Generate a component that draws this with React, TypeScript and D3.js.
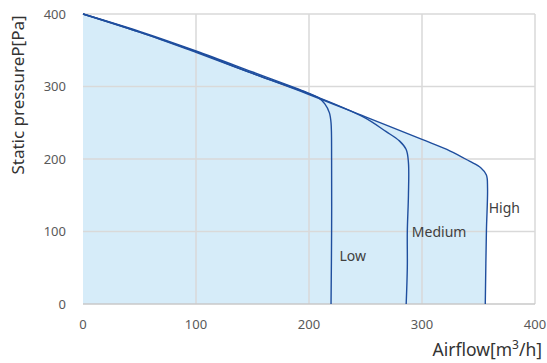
import * as d3 from 'd3'

type Pt = [number, number]

const lowCurve: Pt[] = [[0, 400], [50, 376], [100, 349], [150, 320], [198, 292], [208, 285], [214, 276], [218, 264], [219.5, 250], [220, 200], [220, 100], [219.5, 0]]
const mediumCurve: Pt[] = [[0, 400], [50, 375], [100, 348], [150, 318], [200, 290], [248, 258], [268, 238], [280, 225], [286, 213], [288, 195], [288, 150], [287, 100], [287, 50], [286, 0]]
const highCurve: Pt[] = [[0, 400], [50, 375], [100, 347], [150, 318], [200, 289], [250, 258], [300, 227], [325, 211], [342, 197], [352, 188], [357, 178], [358, 160], [357, 100], [356, 0]]
const curveLabels = ['Low', 'Medium', 'High']
const labelPos: Pt[] = [[227, 66], [291, 100], [359, 133]]
const xTicks = [0, 100, 200, 300, 400]
const yTicks = [0, 100, 200, 300, 400]

const W = 547
const H = 363
const left = 83
const right = 535
const top = 14
const bottom = 304

export default function App() {
  const x = d3.scaleLinear().domain([0, 400]).range([left, right])
  const y = d3.scaleLinear().domain([0, 400]).range([bottom, top])

  const line = d3.line<Pt>().x(d => x(d[0])).y(d => y(d[1])).curve(d3.curveCatmullRom.alpha(0.5))

  // fill under the outer (High) curve, closed back along the bottom
  const fillPath = line(highCurve) + `L${x(0)},${y(0)}Z`
  const curves = [lowCurve, mediumCurve, highCurve]

  return (
    <svg width={W} height={H} style={{ position: 'absolute', left: 0, top: 0, fontFamily: '"Noto Sans", sans-serif' }}>
      <rect width={W} height={H} fill="#fff" />
      <path d={fillPath} fill="#d6ecf9" />
      {xTicks.slice(1).map(t => (
        <line key={'gx' + t} x1={x(t)} x2={x(t)} y1={top} y2={bottom} stroke="#d9d9d9" strokeWidth={1.5} />
      ))}
      {yTicks.slice(1).map(t => (
        <line key={'gy' + t} x1={left} x2={right} y1={y(t)} y2={y(t)} stroke="#d9d9d9" strokeWidth={1.5} />
      ))}
      <line x1={left} x2={right} y1={bottom} y2={bottom} stroke="#c8c8c8" strokeWidth={1.5} />
      {curves.map((c, i) => (
        <path key={i} d={line(c) ?? ''} fill="none" stroke="#1f4e9e" strokeWidth={1.4} />
      ))}
      {xTicks.map(t => (
        <text key={'tx' + t} x={x(t)} y={329} textAnchor="middle" fontSize={13} fill="#595959">{t}</text>
      ))}
      {yTicks.map(t => (
        <text key={'ty' + t} x={66} y={y(t) + 4.5} textAnchor="end" fontSize={13} fill="#595959">{t}</text>
      ))}
      {curveLabels.map((l, i) => (
        <text key={l} x={x(labelPos[i][0])} y={y(labelPos[i][1]) + 5} fontSize={14} fill="#404040">{l}</text>
      ))}
      <text transform={`translate(24,95) rotate(-90)`} textAnchor="middle" fontSize={17} fill="#333">Static pressureP[Pa]</text>
      <text x={542} y={356} textAnchor="end" fontSize={17.5} fill="#333">Airflow[m<tspan dy={-7} fontSize={12}>3</tspan><tspan dy={7}>/h]</tspan></text>
    </svg>
  )
}
